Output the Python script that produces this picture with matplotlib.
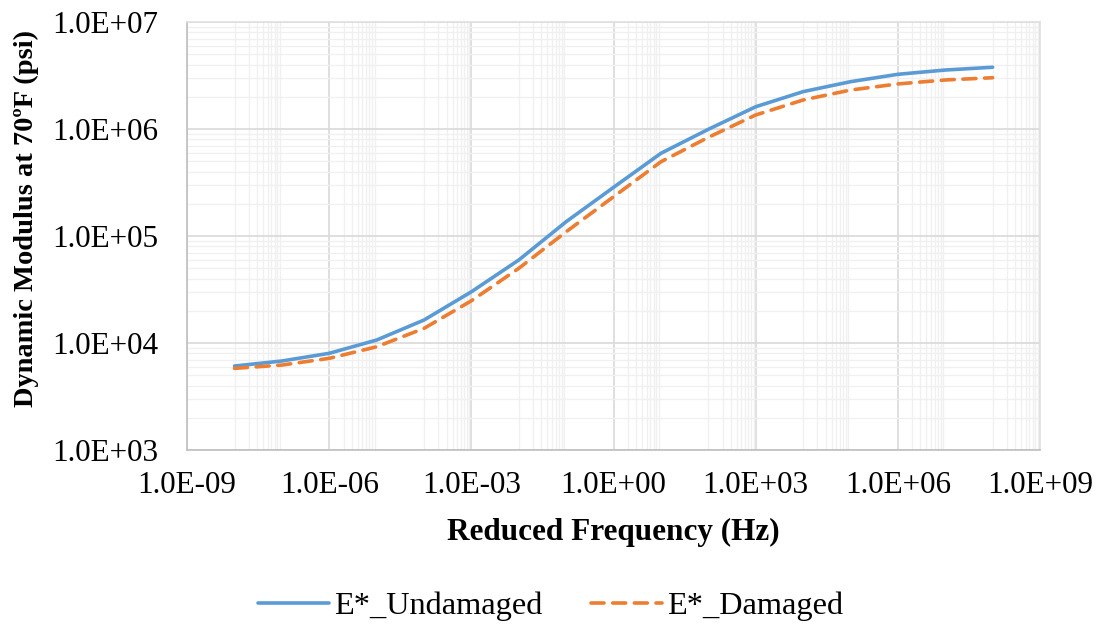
import numpy as np
import matplotlib
matplotlib.use("Agg")
import matplotlib.pyplot as plt
from matplotlib.ticker import FixedLocator, NullFormatter

# ─────────────────────────────────────────────
# Data (one point per decade)
# ─────────────────────────────────────────────
freq_hz = [1e-8, 1e-7, 1e-6, 1e-5, 1e-4, 1e-3, 1e-2, 1e-1, 1e0,
           1e1, 1e2, 1e3, 1e4, 1e5, 1e6, 1e7, 1e8]
log_e_undamaged = [3.785, 3.832, 3.904, 4.028, 4.215, 4.479, 4.776, 5.134, 5.455,
                   5.773, 5.997, 6.208, 6.349, 6.442, 6.511, 6.551, 6.577]
log_e_damaged = [3.763, 3.794, 3.857, 3.965, 4.137, 4.395, 4.698, 5.040, 5.367,
                 5.694, 5.922, 6.131, 6.271, 6.364, 6.421, 6.458, 6.479]
e_undamaged = [10 ** v for v in log_e_undamaged]
e_damaged = [10 ** v for v in log_e_damaged]

series_labels = ["E*_Undamaged", "E*_Damaged"]
x_ticks = [1e-9, 1e-6, 1e-3, 1e0, 1e3, 1e6, 1e9]
x_tick_labels = ["1.0E-09", "1.0E-06", "1.0E-03", "1.0E+00", "1.0E+03", "1.0E+06", "1.0E+09"]
y_ticks = [1e3, 1e4, 1e5, 1e6, 1e7]
y_tick_labels = ["1.0E+03", "1.0E+04", "1.0E+05", "1.0E+06", "1.0E+07"]

plt.rcParams["font.family"] = ["Liberation Serif", "DejaVu Serif"]

fig = plt.figure(figsize=(11.01, 6.28), dpi=100)
ax = fig.add_axes([0.170, 0.2834, 0.7746, 0.6816])

ax.plot(freq_hz, e_undamaged, color="#5B9BD5", lw=2.6, label=series_labels[0],
        solid_capstyle="round", solid_joinstyle="round", zorder=3)
ax.plot(freq_hz, e_damaged, color="#ED7D31", lw=2.6, dashes=(3.6, 2.4),
        label=series_labels[1], dash_capstyle="round", zorder=3)

ax.set_xscale("log")
ax.set_yscale("log")
ax.set_xlim(1e-9, 1e9)
ax.set_ylim(1e3, 1e7)

# Excel-like ticks: majors every 3 decades on x, minor groups on even decades
ax.xaxis.set_major_locator(FixedLocator(x_ticks))
x_minor = [k * 10.0 ** e for e in range(-8, 9, 2) for k in range(1, 10)]
ax.xaxis.set_minor_locator(FixedLocator(x_minor))
ax.yaxis.set_major_locator(FixedLocator(y_ticks))
y_minor = [k * 10.0 ** e for e in range(3, 7) for k in range(2, 10)]
ax.yaxis.set_minor_locator(FixedLocator(y_minor))
ax.xaxis.set_minor_formatter(NullFormatter())
ax.yaxis.set_minor_formatter(NullFormatter())
ax.set_xticklabels(x_tick_labels)
ax.set_yticklabels(y_tick_labels)

ax.grid(which="minor", color="#f0f0f0", lw=1.0, zorder=0)
ax.grid(which="major", color="#d9d9d9", lw=1.2, zorder=1)
ax.set_axisbelow(True)
ax.tick_params(which="both", length=0, labelsize=22.4)
ax.tick_params(axis="x", pad=15)
ax.tick_params(axis="y", pad=21)
for side in ["top", "right"]:
    ax.spines[side].set_color("#e0e0e0")
for side in ["left", "bottom"]:
    ax.spines[side].set_color("#bfbfbf")
for sp in ax.spines.values():
    sp.set_linewidth(1.2)

ax.set_xlabel("Reduced Frequency (Hz)", fontsize=22.5, fontweight="bold", va="center")
ax.xaxis.set_label_coords(0.5, -0.192)
ax.set_ylabel("Dynamic Modulus at 70ºF (psi)", fontsize=20.5, fontweight="bold", va="center")
ax.yaxis.set_label_coords(-0.188, 0.542)

fig.legend(loc="center", bbox_to_anchor=(0.5, 0.035), ncol=2, frameon=False,
           fontsize=23.3, handlelength=2.2, handletextpad=0.15, columnspacing=1.5)

fig.savefig("out.png", dpi=100)
